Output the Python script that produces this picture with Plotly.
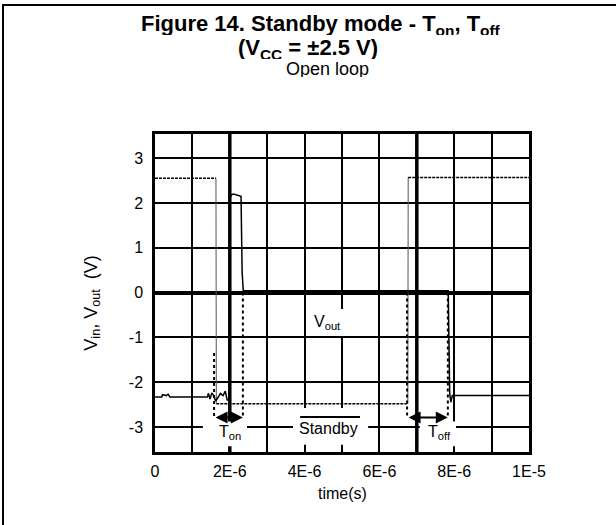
import plotly.graph_objects as go

# ---- data -------------------------------------------------------------
# Standby pin signal (V): high, driven low during standby, released high
t_vin = [0.0, 1.63e-6, 1.64e-6, 6.76e-6, 6.77e-6, 1.0e-5]
v_vin = [2.55, 2.55, -2.48, -2.48, 2.57, 2.57]

# Output voltage (V)
t_vout = [0.0, 0.18e-6, 0.2e-6, 0.3e-6, 0.35e-6, 0.4e-6, 1.4e-6, 1.43e-6,
          1.47e-6, 1.52e-6, 1.57e-6, 1.62e-6, 1.68e-6, 1.75e-6, 1.82e-6,
          1.88e-6, 1.93e-6, 1.98e-6, 2.0e-6, 2.04e-6, 2.1e-6, 2.2e-6,
          2.3e-6, 2.33e-6, 2.36e-6, 2.4e-6, 7.84e-6, 7.88e-6, 7.91e-6,
          7.95e-6, 1.0e-5]
v_vout = [-2.33, -2.33, -2.28, -2.3, -2.27, -2.33, -2.33, -2.25,
          -2.38, -2.24, -2.3, -2.42, -2.35, -2.25, -2.3,
          -2.2, -2.4, -2.4, 2.1, 2.18, 2.2, 2.18,
          2.15, 0.45, 0.04, 0.04, 0.04, -2.25, -2.45,
          -2.3, -2.3]

# Timing cursors
ton_t = [1.58e-6, 2.35e-6]
ton_top = [-1.35, 0.0]
toff_t = [6.74e-6, 7.83e-6]
toff_top = [0.0, 0.0]
cursor_level = -2.79

# Axis ticks
x_ticks = [i * 1e-6 for i in range(11)]
x_labels = ["0", "", "2E-6", "", "4E-6", "", "6E-6", "", "8E-6", "", "1E-5"]
y_ticks = [-3, -2, -1, 0, 1, 2, 3]
y_labels = ["-3", "-2", "-1", "0", "1", "2", "3"]

FONT = "Liberation Sans, Arial, sans-serif"

fig = go.Figure()

# standby signal: plateaus dashed, edges thin grey
for i in range(0, len(t_vin) - 1):
    edge = v_vin[i] != v_vin[i + 1]
    fig.add_trace(go.Scatter(
        x=t_vin[i:i + 2], y=v_vin[i:i + 2], mode="lines",
        line=dict(color="#555555" if edge else "black",
                  width=1 if edge else 1.5,
                  dash="solid" if edge else "3px,1px"),
        hoverinfo="skip", showlegend=False))

# output voltage
fig.add_trace(go.Scatter(x=t_vout, y=v_vout, mode="lines",
                         line=dict(color="black", width=1.5),
                         hoverinfo="skip", showlegend=False))

# dotted timing cursors
for ts, tops in ((ton_t, ton_top), (toff_t, toff_top)):
    for t, top in zip(ts, tops):
        fig.add_trace(go.Scatter(x=[t, t], y=[top, cursor_level], mode="lines",
                                 line=dict(color="black", width=2, dash="dot"),
                                 hoverinfo="skip", showlegend=False))

shapes = []
# emphasised grid lines
for xv in (2e-6, 7e-6):
    shapes.append(dict(type="line", xref="x", yref="y", x0=xv, x1=xv,
                       y0=-3.56, y1=3.54, layer="between",
                       line=dict(color="black", width=3.5)))

# white label boxes
def box(x0, x1, y0, y1):
    shapes.append(dict(type="rect", xref="x", yref="y", x0=x0, x1=x1,
                       y0=y0, y1=y1, layer="above",
                       fillcolor="white", line=dict(width=0)))

box(4.09e-6, 5.16e-6, -0.97, -0.37)    # Vout
box(3.69e-6, 5.70e-6, -3.40, -2.58)    # Standby
box(1.28e-6, 2.46e-6, -3.43, -2.88)    # Ton
box(7.08e-6, 8.05e-6, -3.43, -2.88)    # Toff

# overline of the active-low Standby label
shapes.append(dict(type="line", xref="x", yref="y", x0=3.88e-6, x1=5.48e-6,
                   y0=-2.78, y1=-2.78, layer="above",
                   line=dict(color="black", width=2)))

# frame of the figure (left and top)
shapes.append(dict(type="line", xref="paper", yref="paper",
                   x0=-0.4064, x1=-0.4064, y0=1.4088, y1=-0.2296,
                   line=dict(color="black", width=2)))
shapes.append(dict(type="line", xref="paper", yref="paper",
                   x0=-0.4064, x1=1.2326, y0=1.4057, y1=1.4057,
                   line=dict(color="black", width=2)))

annotations = []
# double headed Ton / Toff arrows
for ts in (ton_t, toff_t):
    annotations.append(dict(x=ts[1], y=cursor_level, ax=ts[0], ay=cursor_level,
                            xref="x", yref="y", axref="x", ayref="y", text="",
                            showarrow=True, arrowhead=2, startarrowhead=2,
                            arrowside="end+start", arrowwidth=2, arrowsize=1.2,
                            startarrowsize=1.2, arrowcolor="black"))

def label(text, x, y, size=16, xref="x", yref="y", bold=False, angle=0,
          height=None):
    ann = dict(text=f"<b>{text}</b>" if bold else text,
               x=x, y=y, xref=xref, yref=yref, showarrow=False,
               xanchor="center", yanchor="middle", textangle=angle,
               font=dict(family=FONT, size=size, color="black"))
    if height:
        ann["height"] = height
    annotations.append(ann)

label("V<sub>out</sub>", 4.6e-6, -0.66)
label("Standby", 4.63e-6, -3.03)
label("T<sub>on</sub>", 2.0e-6, -3.12)
label("T<sub>off</sub>", 7.62e-6, -3.12)

# titles (three tightly stacked lines)
label("Figure 14. Standby mode - T<sub>on</sub>, T<sub>off</sub>", 0.445, 1.343,
      size=22, xref="paper", yref="paper", bold=True, height=20)
label("(V<sub>CC</sub> = ±2.5 V)", 0.409, 1.268, size=22,
      xref="paper", yref="paper", bold=True, height=20)
label("Open loop", 0.461, 1.203, size=18, xref="paper", yref="paper",
      height=16)

# axis titles
label("time(s)", 0.5, -0.13, size=16, xref="paper", yref="paper")
label("V<sub>in</sub>, V<sub>out</sub>  (V)", -0.168, 0.467, size=18,
      xref="paper", yref="paper", angle=-90)

fig.update_layout(
    width=616, height=525,
    margin=dict(l=155, r=87, t=134, b=73),
    paper_bgcolor="white", plot_bgcolor="white",
    font=dict(family=FONT, size=16, color="black"),
    showlegend=False,
    shapes=shapes, annotations=annotations,
)
fig.update_xaxes(range=[0, 1e-5], tickvals=x_ticks, ticktext=x_labels,
                 showgrid=True, gridcolor="black", gridwidth=2,
                 showline=True, mirror=True, linecolor="black", linewidth=2.5,
                 ticks="", ticklabelstandoff=3, zeroline=False,
                 tickfont=dict(family=FONT, size=16))
fig.update_yaxes(range=[-3.56, 3.54], tickvals=y_ticks, ticktext=y_labels,
                 showgrid=True, gridcolor="black", gridwidth=2,
                 showline=True, mirror=True, linecolor="black", linewidth=2.5,
                 ticks="", ticklabelstandoff=6,
                 zeroline=True, zerolinecolor="black", zerolinewidth=3.5,
                 tickfont=dict(family=FONT, size=16))

fig.write_html("out.html")
